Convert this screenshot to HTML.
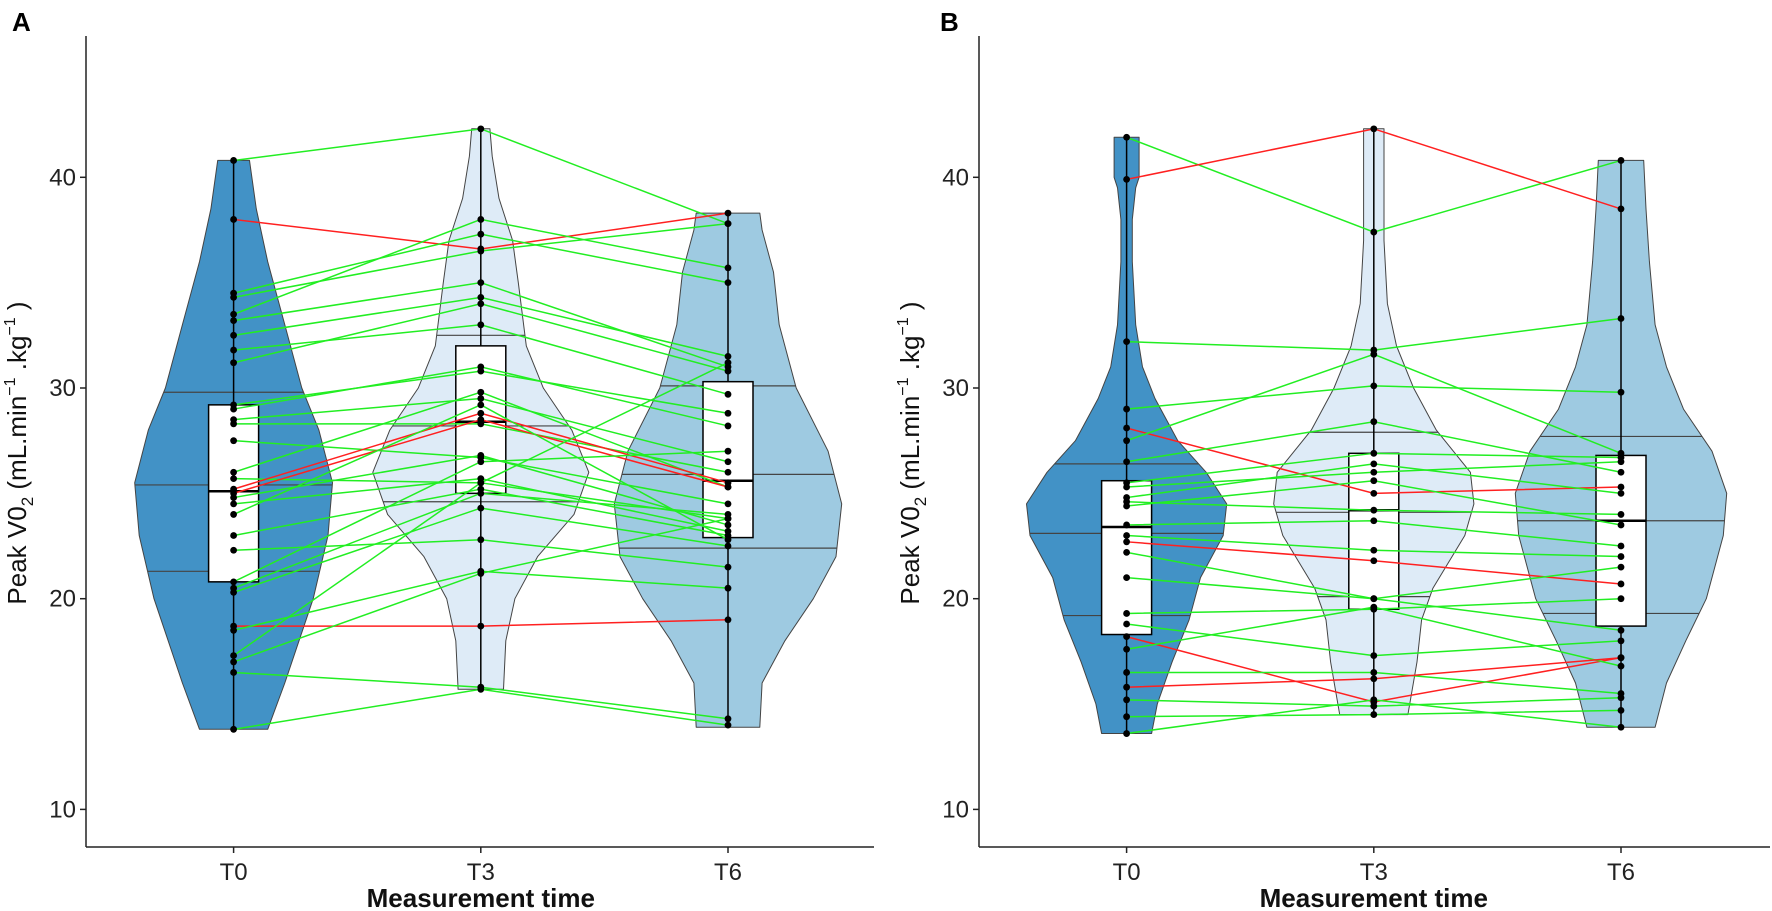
<!DOCTYPE html>
<html><head><meta charset="utf-8"><style>
html,body{margin:0;padding:0;background:#fff;}
svg{display:block;font-family:"Liberation Sans",Arial,sans-serif;}
</style></head><body>
<svg id="chart" width="1772" height="911" viewBox="0 0 1772 911"></svg>
<script>
// ---- data ----
const categories = ["T0","T3","T6"];
const yTicks = [10,20,30,40];
const subjectsA_t0 = [40.8,38,34.5,34.3,33.5,33.2,32.5,31.8,31.2,29.2,29,28.5,28.3,27.5,26,25.7,25.2,25,24.8,24.5,24,23,22.3,20.8,20.5,20.3,18.7,18.5,17.3,17,16.5,13.8];
const subjectsA_t3 = [42.3,36.6,37.3,36.5,38,35,34.3,33,34,30.8,31,29.5,28.3,26.7,29.8,25.5,28.8,28.5,26.8,25.7,29.2,25.2,22.8,26.5,25,24.3,18.7,21.3,25.5,21.2,15.8,15.7];
const subjectsA_t6 = [37.8,38.3,35,37.8,35.7,31,31.5,29.7,30.8,28.8,28.2,26.5,26,24.5,25.3,23.8,25.5,25.3,23.5,23.2,22.8,23,21.5,27,24,22.5,19,20.5,31.2,23.8,14.3,14];
const subjectsA_red = [1,16,17,26];
const subjectsB_t0 = [41.9,39.9,32.2,29,28.1,27.5,26.5,25.5,25.3,24.8,24.6,24.4,23.5,23,22.7,22.2,21,19.3,18.8,18.2,17.6,16.5,15.8,15.2,14.4,13.6];
const subjectsB_t3 = [37.4,42.3,31.8,30.1,25,31.6,28.4,26.9,26,26.4,24.2,25.6,23.7,22.3,21.8,20,20,19.5,17.3,15.1,19.6,16.5,16.2,14.9,14.5,15.2];
const subjectsB_t6 = [40.8,38.5,33.3,29.8,25.3,26.9,26,26.7,26.5,25,24,23.5,22.5,22,20.7,21.5,18.5,20,18,17.2,16.8,15.5,17.2,15.3,14.7,13.9];
const subjectsB_red = [1,4,14,19,22];
const violinA_T0_v = [13.8,16,20,23,25.5,28,30,33,36,38.5,40.8];
const violinA_T0_w = [30,45,70,83,87,75,60,45,30,20,14];
const violinA_T3_v = [15.7,18,20,22,24,26,28,30,32,35,37,39,41,42.3];
const violinA_T3_w = [20,22,30,50,82,95,80,55,40,33,28,16,10,8];
const violinA_T6_v = [13.9,16,18,20,22,24.5,27,30,33,35.5,37.5,38.3];
const violinA_T6_w = [28,30,50,75,95,100,88,60,45,40,30,28];
const violinB_T0_v = [13.6,15,17,19,21,23,24.5,26,27.5,29.5,31,33,36,38,39.5,40,41.9];
const violinB_T0_w = [22,27,40,55,65,85,88,70,45,25,14,8,5,5,8,11,11];
const violinB_T3_v = [14.5,17,19,20.5,23,24.5,26,28,30,32,34,37,39,42.3];
const violinB_T3_w = [30,38,42,52,80,88,85,55,35,20,12,9,9,9];
const violinB_T6_v = [13.9,16,18,20,23,25,27,29,31,33,36,38.5,40.8];
const violinB_T6_w = [30,40,57,75,90,93,80,55,40,30,25,22,20];
const quantA = [[21.3,25.4,29.8],[24.6,28.2,32.5],[22.4,25.9,30.1]];
const quantB = [[19.2,23.1,26.4],[20.1,24.1,27.9],[19.3,23.7,27.7]];
const boxA = [[20.8,25.1,29.2],[25,28.4,32],[22.9,25.6,30.3]];
const boxB = [[18.3,23.4,25.6],[19.5,24.2,26.9],[18.7,23.7,26.8]];

const NS="http://www.w3.org/2000/svg";
const svg=document.getElementById('chart');
const Y0=809.4, PX=21.07, AXTOP=36, AXBOT=847, WS=1.137;
const yS=v=>Y0-(v-10)*PX;
const fills=["#4292c6","#deebf7","#9ecae1"];
function mk(tag,attrs,parent){const e=document.createElementNS(NS,tag);for(const k in attrs)e.setAttribute(k,attrs[k]);(parent||svg).appendChild(e);return e;}
function interp(vs,ws,v){if(v<=vs[0])return ws[0];for(let i=1;i<vs.length;i++){if(v<=vs[i]){const t=(v-vs[i-1])/(vs[i]-vs[i-1]);return ws[i-1]+t*(ws[i]-ws[i-1]);}}return ws[ws.length-1];}

function panel(id,axX,xRight,label,violins,quants,boxes,t0,t3,t6,red){
  const g=mk('g',{});
  
  
  const xS=i=>axX+147.6+i*247.2;
  violins.forEach((vw,i)=>{
    const [vs,ws]=vw;const cx=xS(i);
    let d='';
    vs.forEach((v,k)=>{d+=(k?'L':'M')+(cx-ws[k]*WS).toFixed(1)+','+yS(v).toFixed(1);});
    for(let k=vs.length-1;k>=0;k--)d+='L'+(cx+ws[k]*WS).toFixed(1)+','+yS(vs[k]).toFixed(1);
    d+='Z';
    const p=mk('path',{d:d,fill:fills[i],stroke:'#444','stroke-width':1,'stroke-linejoin':'round'},g);
    
    
    quants[i].forEach(q=>{const w=interp(vs,ws,q)*WS;
      const l=mk('line',{x1:cx-w,x2:cx+w,y1:yS(q),y2:yS(q),stroke:'#444','stroke-width':1.2},g);
      
      });
  });
  const cols=[t0,t3,t6];
  boxes.forEach((b,i)=>{const cx=xS(i);const vals=cols[i];
    const mn=Math.min(...vals),mx=Math.max(...vals);
    const w=mk('line',{x1:cx,x2:cx,y1:yS(mn),y2:yS(mx),stroke:'#000','stroke-width':1.5},g);
    
    
    const r=mk('rect',{x:cx-25,y:yS(b[2]),width:50,height:yS(b[0])-yS(b[2]),fill:'#fff',stroke:'#000','stroke-width':1.5},g);
    
    
    const m=mk('line',{x1:cx-25,x2:cx+25,y1:yS(b[1]),y2:yS(b[1]),stroke:'#000','stroke-width':2.5},g);
    
    
  });
  t0.forEach((v,k)=>{const c=red.includes(k)?'#ff2020':'#22ee22';
    const pl=mk('polyline',{points:xS(0)+','+yS(v)+' '+xS(1)+','+yS(t3[k])+' '+xS(2)+','+yS(t6[k]),fill:'none',stroke:c,'stroke-width':1.5},g);
    
    });
  cols.forEach((vals,i)=>vals.forEach(v=>{const c=mk('circle',{cx:xS(i),cy:yS(v),r:3.4,fill:'#000'},g);
    
    }));
  const ya=mk('line',{x1:axX,x2:axX,y1:AXTOP,y2:AXBOT,stroke:'#222','stroke-width':1.5},g);
  
  
  const xa=mk('line',{x1:axX,x2:xRight,y1:AXBOT,y2:AXBOT,stroke:'#222','stroke-width':1.5},g);
  
  
  yTicks.forEach(t=>{mk('line',{x1:axX-6,x2:axX,y1:yS(t),y2:yS(t),stroke:'#222','stroke-width':1.5},g);
    const tx=mk('text',{x:axX-10,y:yS(t)+8,'text-anchor':'end','font-size':24,fill:'#222'},g);tx.textContent=t;
    
    });
  categories.forEach((c,i)=>{mk('line',{x1:xS(i),x2:xS(i),y1:AXBOT,y2:AXBOT+6,stroke:'#222','stroke-width':1.5},g);
    const tx=mk('text',{x:xS(i),y:880,'text-anchor':'middle','font-size':24,fill:'#222'},g);tx.textContent=c;
    
    });
  const xt=mk('text',{x:xS(1),y:907,'text-anchor':'middle','font-size':26,'font-weight':'bold',fill:'#111'},g);xt.textContent='Measurement time';
  
  
  const yt=mk('text',{transform:'translate('+(axX-60)+',453) rotate(-90)','text-anchor':'middle','font-size':26,fill:'#111'},g);
  yt.innerHTML='Peak V0<tspan font-size="17" dy="7">2</tspan><tspan dy="-7"> (mL.min</tspan><tspan font-size="16" dy="-11">−1</tspan><tspan dy="11"> .kg</tspan><tspan font-size="16" dy="-11">−1</tspan><tspan dy="11"> )</tspan>';
  
  
  const pl=mk('text',{x:label[1],y:31,'font-size':26,'font-weight':'bold',fill:'#000'},g);pl.textContent=label[0];
  
  
}
panel('a',86,874,['A',12],[[violinA_T0_v,violinA_T0_w],[violinA_T3_v,violinA_T3_w],[violinA_T6_v,violinA_T6_w]],quantA,boxA,subjectsA_t0,subjectsA_t3,subjectsA_t6,subjectsA_red);
panel('b',979,1770,['B',940],[[violinB_T0_v,violinB_T0_w],[violinB_T3_v,violinB_T3_w],[violinB_T6_v,violinB_T6_w]],quantB,boxB,subjectsB_t0,subjectsB_t3,subjectsB_t6,subjectsB_red);
</script>
</body></html>
